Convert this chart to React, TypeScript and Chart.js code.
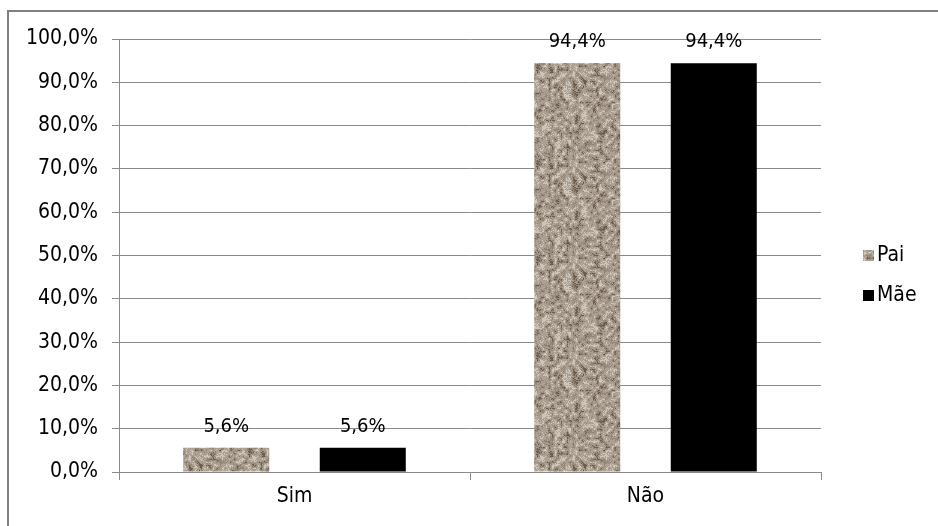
import React, { useEffect, useRef } from "react";
import { Chart, registerables } from "chart.js";

Chart.register(...registerables);

const categories = ["Sim", "Não"];
const seriesNames = ["Pai", "Mãe"];
const paiValues = [5.6, 94.4];
const maeValues = [5.6, 94.4];
const yMin = 0;
const yMax = 100;
const yStep = 10;

const FONT = "'DejaVu Sans Condensed', 'DejaVu Sans', Verdana, sans-serif";
const FSIZE = 21;
const LABEL_SIZE = 20;

function fmt(v: number): string {
  return v.toFixed(1).replace(".", ",") + "%";
}

function hash(x: number, y: number): number {
  let h = (x * 374761393 + y * 668265263) | 0;
  h = (h ^ (h >>> 13)) * 1274126177;
  h = h ^ (h >>> 16);
  return ((h >>> 0) % 10000) / 10000;
}

function makeGranite(): CanvasPattern | string {
  const size = 96;
  const c = document.createElement("canvas");
  c.width = size;
  c.height = size;
  const ctx = c.getContext("2d");
  if (!ctx) return "#a89a8b";
  const img = ctx.createImageData(size, size);
  const cell = 3;
  const n = size / cell;
  const noise = (x: number, y: number) => hash(((x % n) + n) % n, ((y % n) + n) % n);
  for (let y = 0; y < size; y++) {
    for (let x = 0; x < size; x++) {
      const gx = x / cell;
      const gy = y / cell;
      const x0 = Math.floor(gx);
      const y0 = Math.floor(gy);
      const fx = gx - x0;
      const fy = gy - y0;
      const a = noise(x0, y0);
      const b = noise(x0 + 1, y0);
      const cc = noise(x0, y0 + 1);
      const d = noise(x0 + 1, y0 + 1);
      const v = (a * (1 - fx) + b * fx) * (1 - fy) + (cc * (1 - fx) + d * fx) * fy;
      const fine = hash(x + 1000, y + 2000);
      const t = v * 0.7 + fine * 0.3;
      let r: number, g: number, bl: number;
      if (t < 0.24) {
        r = 108; g = 93; bl = 78;
      } else if (t < 0.42) {
        r = 148; g = 135; bl = 120;
      } else if (t < 0.68) {
        r = 172; g = 160; bl = 146;
      } else {
        r = 206; g = 197; bl = 186;
      }
      const i = (y * size + x) * 4;
      img.data[i] = r;
      img.data[i + 1] = g;
      img.data[i + 2] = bl;
      img.data[i + 3] = 255;
    }
  }
  ctx.putImageData(img, 0, 0);
  const p = ctx.createPattern(c, "repeat");
  return p || "#a89a8b";
}

const dataLabelPlugin = {
  id: "dataLabels",
  afterDatasetsDraw(chart: any) {
    const ctx = chart.ctx;
    ctx.save();
    ctx.font = `${LABEL_SIZE}px ${FONT}`;
    ctx.fillStyle = "#000";
    ctx.textAlign = "center";
    ctx.textBaseline = "alphabetic";
    chart.data.datasets.forEach((ds: any, di: number) => {
      const meta = chart.getDatasetMeta(di);
      meta.data.forEach((el: any, i: number) => {
        ctx.fillText(fmt(ds.data[i]), el.x, el.y - 16);
      });
    });
    ctx.restore();
  },
};

const legendPlugin = {
  id: "customLegend",
  afterDraw(chart: any) {
    const ctx = chart.ctx;
    const area = chart.chartArea;
    ctx.save();
    ctx.font = `${FSIZE}px ${FONT}`;
    ctx.textBaseline = "middle";
    ctx.textAlign = "left";
    const boxX = area.right + 42;
    const startY = 255;
    const gap = 40;
    chart.data.datasets.forEach((ds: any, i: number) => {
      const cy = startY + i * gap;
      ctx.fillStyle = ds.backgroundColor;
      ctx.fillRect(boxX, cy - 5, 11, 11);
      ctx.fillStyle = "#000";
      ctx.fillText(ds.label, boxX + 14, cy + 1);
    });
    ctx.restore();
  },
};

export default function App() {
  const ref = useRef<HTMLCanvasElement | null>(null);

  useEffect(() => {
    if (!ref.current) return;
    const granite = makeGranite();
    const gridColor = "#8a8a8a";
    const chart = new Chart(ref.current, {
      type: "bar",
      data: {
        labels: categories,
        datasets: [
          {
            label: seriesNames[0],
            data: paiValues,
            backgroundColor: granite as any,
            borderWidth: 0,
            categoryPercentage: 0.778,
            barPercentage: 0.63,
          },
          {
            label: seriesNames[1],
            data: maeValues,
            backgroundColor: "#000000",
            borderWidth: 0,
            categoryPercentage: 0.778,
            barPercentage: 0.63,
          },
        ],
      },
      options: {
        responsive: false,
        animation: false,
        layout: { padding: { top: 39, right: 117, bottom: 0, left: 0 } },
        plugins: {
          legend: { display: false },
          tooltip: { enabled: false },
        },
        scales: {
          x: {
            grid: {
              offset: true,
              drawOnChartArea: false,
              drawTicks: true,
              tickLength: 8,
              color: gridColor,
              lineWidth: 1,
            },
            border: { display: true, color: gridColor, width: 1 },
            ticks: {
              color: "#000",
              font: { family: FONT, size: FSIZE },
              padding: 4,
            },
            afterFit(scale: any) {
              scale.height = 54;
            },
          },
          y: {
            min: yMin,
            max: yMax,
            ticks: {
              stepSize: yStep,
              color: "#000",
              font: { family: FONT, size: FSIZE },
              padding: 14,
              callback: (v: any) => fmt(Number(v)),
            },
            grid: {
              color: gridColor,
              lineWidth: 1,
              drawTicks: true,
              tickLength: 7,
            },
            border: { display: true, color: gridColor, width: 1 },
            afterFit(scale: any) {
              scale.width = 119;
            },
          },
        },
      },
      plugins: [dataLabelPlugin, legendPlugin],
    });
    return () => chart.destroy();
  }, []);

  return (
    <div
      style={{
        position: "fixed",
        left: 0,
        top: 0,
        width: 938,
        height: 526,
        overflow: "hidden",
        background: "#fff",
      }}
    >
      <div
        style={{
          position: "absolute",
          left: 7,
          top: 10,
          width: 1000,
          height: 1000,
          border: "2px solid #808080",
        }}
      />
      <canvas
        ref={ref}
        width={938}
        height={526}
        style={{ position: "absolute", left: 0, top: 0 }}
      />
    </div>
  );
}
